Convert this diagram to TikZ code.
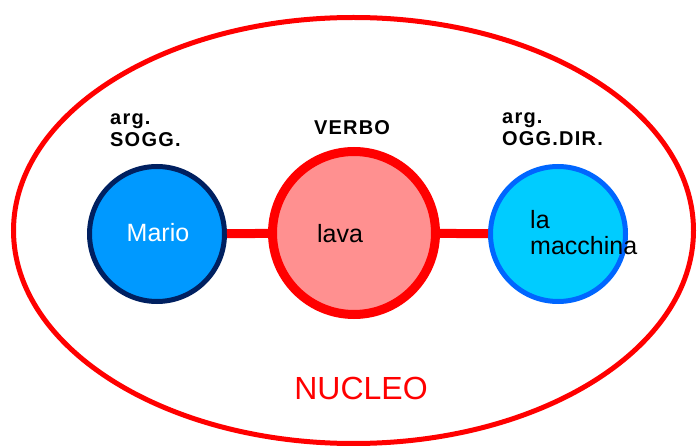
\documentclass[tikz,border=0pt]{standalone}
\usepackage{fontspec}
\setmainfont{Liberation Sans}
\definecolor{navy}{HTML}{002060}
\definecolor{marioblue}{HTML}{0099FF}
\definecolor{lavapink}{HTML}{FF9090}
\definecolor{carcyan}{HTML}{00CCFF}
\definecolor{carblue}{HTML}{0066FF}
\begin{document}
\begin{tikzpicture}[x=1pt,y=-1pt,
    argom/.style={circle,minimum size=135pt,inner sep=0pt,line width=5pt},
    verbo/.style={circle,minimum size=163pt,inner sep=0pt,line width=9pt,draw=red,fill=lavapink},
    link/.style={red,line width=9pt},
    head/.style={font=\fontsize{20}{22}\selectfont\bfseries\addfontfeature{LetterSpace=6},align=left,inner sep=0pt},
    word/.style={font=\fontsize{25}{30}\selectfont,inner sep=0pt,align=left}]

        \useasboundingbox (0,0) rectangle (699,446);
        \draw[red,line width=5pt] (353.5,230.5) ellipse [x radius=340, y radius=213];

        \node[argom,draw=navy,fill=marioblue] (mario) at (157,234) {};
        \node[verbo] (lava) at (354,233) {};
        \node[argom,draw=carblue,fill=carcyan] (car) at (558,234) {};
        \draw[link] (mario) -- (lava);
        \draw[link] (lava) -- (car);

        \node[word,white] (tmario) at (158,233) {Mario};
        \node[word] (tlava) at (340,234) {lava};
        \node[word,anchor=west] (tcar) at (530,233) {la\\[-4pt]macchina};

        \node[head,anchor=west] (hsogg) at (110,130) {arg.\\SOGG.};
        \node[head] (hverbo) at (352,128) {VERBO};
        \node[head,anchor=west] (hogg) at (502,129) {arg.\\OGG.DIR.};

        \node[red,font=\fontsize{32}{36}\selectfont] (nucleo) at (361,388) {NUCLEO};
    \end{tikzpicture}
\end{document}
